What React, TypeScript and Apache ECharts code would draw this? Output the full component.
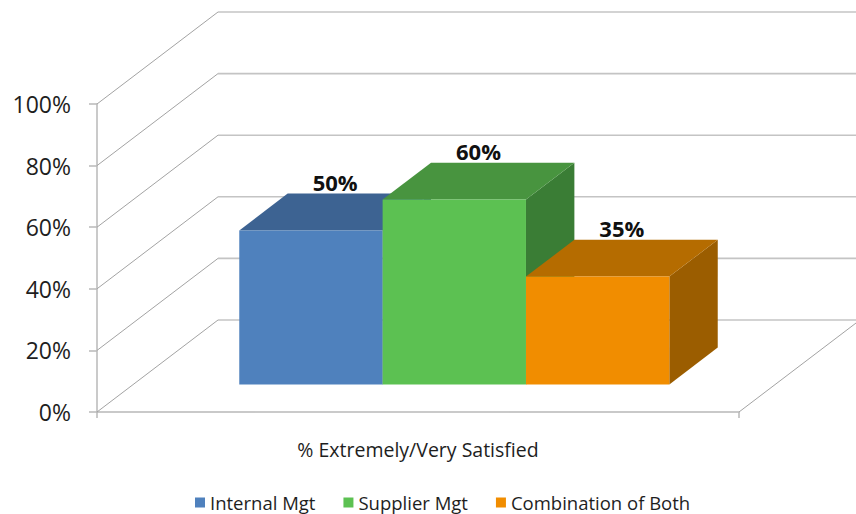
import { useEffect, useRef } from "react";
import * as echarts from "echarts";

// Survey result: one category, three respondent groups
const CATEGORIES = ["% Extremely/Very Satisfied"];
const SERIES_NAMES = ["Internal Mgt", "Supplier Mgt", "Combination of Both"];
const SERIES_VALUES = [50, 60, 35];
const Y_TICKS = [0, 20, 40, 60, 80, 100];

// Box face colours per series: front, top, side
const FACE_COLORS = [
  { front: "#4f81bd", top: "#3d6392", side: "#355784" },
  { front: "#5cc152", top: "#48943f", side: "#3a7d35" },
  { front: "#f18d00", top: "#b56c00", side: "#9b5d00" },
];

// Oblique projection of the full chart depth (front plane -> back wall), px
const DEPTH_X = 121;
const DEPTH_Y = -92;
// Bars sit between these fractions of the depth
const BAR_NEAR = 0.3;
const BAR_FAR = 0.7;
// Width of one bar as a share of the category band
const BAR_SHARE = 0.2233;

const FONT = "'Open Sans', 'Noto Sans', sans-serif";

function barRenderer(seriesIdx: number) {
  return (params: any, api: any) => {
    const value = api.value(1);
    const base = api.coord([api.value(0), 0]);
    const peak = api.coord([api.value(0), value]);
    const band = api.size([1, 0])[0];
    const bw = band * BAR_SHARE;
    const n = SERIES_VALUES.length;
    const x0 = base[0] - (n / 2) * bw + seriesIdx * bw + DEPTH_X * BAR_NEAR;
    const x1 = x0 + bw;
    const yb = base[1] + DEPTH_Y * BAR_NEAR;
    const yt = peak[1] + DEPTH_Y * BAR_NEAR;
    const dx = DEPTH_X * (BAR_FAR - BAR_NEAR);
    const dy = DEPTH_Y * (BAR_FAR - BAR_NEAR);
    const c = FACE_COLORS[seriesIdx];
    return {
      type: "group",
      children: [
        {
          type: "polygon",
          shape: { points: [[x1, yb], [x1 + dx, yb + dy], [x1 + dx, yt + dy], [x1, yt]] },
          style: { fill: c.side },
        },
        {
          type: "polygon",
          shape: { points: [[x0, yt], [x1, yt], [x1 + dx, yt + dy], [x0 + dx, yt + dy]] },
          style: { fill: c.top },
        },
        {
          type: "rect",
          shape: { x: x0, y: yt, width: bw, height: yb - yt },
          style: { fill: c.front },
        },
        {
          type: "text",
          x: x0 + bw / 2 + dx / 2,
          y: yt + dy - 1,
          style: {
            text: value + "%",
            fill: "#111",
            font: `bold 22px ${FONT}`,
            align: "center",
            verticalAlign: "bottom",
          },
        },
      ],
    };
  };
}

// Side and back walls: one diagonal + back gridline per y tick
function wallRenderer(params: any, api: any) {
  const v = api.value(1);
  const cs = params.coordSys;
  const y = api.coord([0, v])[1];
  const left = cs.x;
  const right = cs.x + cs.width;
  const children: any[] = [
    {
      type: "line",
      shape: { x1: left, y1: y, x2: left + DEPTH_X, y2: y + DEPTH_Y },
      style: { stroke: "#a3a3a3", lineWidth: 1 },
    },
    {
      type: "line",
      shape: { x1: left + DEPTH_X, y1: y + DEPTH_Y, x2: right + DEPTH_X, y2: y + DEPTH_Y },
      style: { stroke: "#c4c4c4", lineWidth: 1.6 },
    },
  ];
  if (v === Y_TICKS[0]) {
    children.push({
      type: "line",
      shape: { x1: right, y1: y, x2: right + DEPTH_X, y2: y + DEPTH_Y },
      style: { stroke: "#a3a3a3", lineWidth: 1 },
    });
  }
  return { type: "group", children };
}

export default function App() {
  const ref = useRef<HTMLDivElement>(null);

  useEffect(() => {
    if (!ref.current) return;
    const chart = echarts.init(ref.current, undefined, { renderer: "svg" });

    const barSeries = SERIES_NAMES.map((name, i) => ({
      name,
      type: "custom",
      clip: false,
      z: 3,
      itemStyle: { color: FACE_COLORS[i].front },
      renderItem: barRenderer(i),
      encode: { x: 0, y: 1 },
      data: [[0, SERIES_VALUES[i]]],
    }));

    chart.setOption({
      animation: false,
      backgroundColor: "#ffffff",
      grid: { left: 97, right: 117, top: 104, bottom: 102 },
      xAxis: {
        type: "category",
        data: CATEGORIES,
        boundaryGap: true,
        axisLine: { show: true, lineStyle: { color: "#b8b8b8", width: 1.5 } },
        axisTick: { show: true, length: 6, lineStyle: { color: "#b8b8b8", width: 1.5 } },
        axisLabel: {
          margin: 27,
          fontSize: 19.5,
          fontFamily: FONT,
          color: "#1e1e1e",
        },
        splitLine: { show: false },
      },
      yAxis: {
        type: "value",
        min: 0,
        max: 100,
        interval: 20,
        axisLine: { show: true, lineStyle: { color: "#b8b8b8", width: 1.5 } },
        axisTick: { show: true, length: 8, lineStyle: { color: "#b8b8b8", width: 1.5 } },
        axisLabel: {
          formatter: "{value}%",
          margin: 26,
          fontSize: 23,
          fontFamily: FONT,
          color: "#1e1e1e",
        },
        splitLine: { show: false },
      },
      legend: {
        data: SERIES_NAMES,
        left: 190,
        top: 488,
        icon: "rect",
        itemWidth: 10,
        itemHeight: 10,
        itemGap: 28,
        textStyle: { fontSize: 18.5, fontFamily: FONT, color: "#1e1e1e" },
      },
      series: [
        {
          name: "walls",
          type: "custom",
          clip: false,
          z: 1,
          silent: true,
          renderItem: wallRenderer,
          encode: { x: 0, y: 1 },
          data: Y_TICKS.map((v) => [0, v]),
        },
        ...barSeries,
      ],
    });

    return () => chart.dispose();
  }, []);

  return (
    <div
      ref={ref}
      style={{ position: "fixed", left: 0, top: 0, width: 856, height: 514, background: "#fff" }}
    />
  );
}
